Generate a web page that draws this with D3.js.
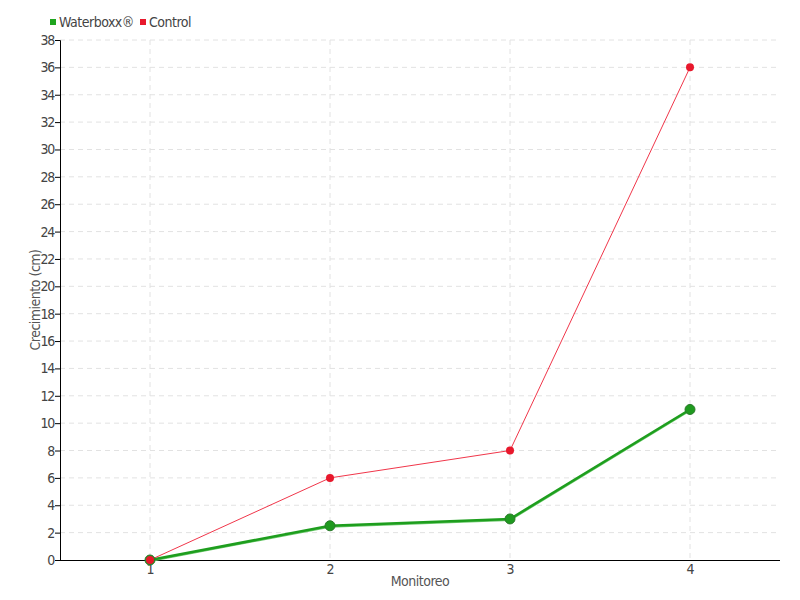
<!DOCTYPE html>
<html>
<head>
<meta charset="utf-8">
<script src="https://cdn.jsdelivr.net/npm/d3@7"></script>
<style>
  body { margin: 0; background: #fff; }
  text { font-family: "DejaVu Sans Condensed", "Liberation Sans Narrow", "Roboto", sans-serif; }
</style>
</head>
<body>
<div id="chart"></div>
<script>
const monitoreo = [1, 2, 3, 4];
const waterboxx = [0, 2.5, 3, 11];
const control = [0, 6, 8, 36];
const yTicks = d3.range(0, 39, 2);

const width = 800, height = 600;
const m = { top: 40, right: 20, bottom: 40, left: 60 };
const font = "'DejaVu Sans Condensed', 'Liberation Sans Narrow', sans-serif";

const svg = d3.select("#chart").append("svg")
  .attr("width", width)
  .attr("height", height);

const x = d3.scaleLinear().domain([0.5, 4.5]).range([m.left, width - m.right]);
const y = d3.scaleLinear().domain([0, 38]).range([height - m.bottom, m.top]);

// grid
svg.append("g")
  .selectAll("line")
  .data(yTicks.filter(d => d > 0))
  .join("line")
  .attr("x1", m.left).attr("x2", width - m.right)
  .attr("y1", d => y(d)).attr("y2", d => y(d))
  .attr("stroke", "#e2e2e2")
  .attr("stroke-dasharray", "5,4");

svg.append("g")
  .selectAll("line")
  .data(monitoreo)
  .join("line")
  .attr("x1", d => x(d)).attr("x2", d => x(d))
  .attr("y1", m.top).attr("y2", height - m.bottom)
  .attr("stroke", "#e2e2e2")
  .attr("stroke-dasharray", "5,4");

// axes
const yAxis = svg.append("g")
  .attr("transform", `translate(${m.left},0)`)
  .call(d3.axisLeft(y).tickValues(yTicks).tickSize(5).tickPadding(1));
yAxis.select(".domain").attr("stroke", "#000");
yAxis.selectAll("text").attr("font-size", 14).attr("fill", "#444")
  .attr("letter-spacing", "-1.2px")
  .style("font-family", font);

const xAxis = svg.append("g")
  .attr("transform", `translate(0,${height - m.bottom})`)
  .call(d3.axisBottom(x).tickValues(monitoreo).tickFormat(d3.format("d")).tickSize(0).tickPadding(4));
xAxis.select(".domain").attr("stroke", "#000").attr("d", `M${m.left},0.5H${width - m.right}`);
xAxis.selectAll("text").attr("font-size", 14).attr("fill", "#444")
  .style("font-family", font);

svg.append("text")
  .attr("x", (m.left + width - m.right) / 2)
  .attr("y", 586)
  .attr("text-anchor", "middle")
  .attr("font-size", 14)
  .attr("letter-spacing", "-0.5px")
  .attr("fill", "#555")
  .text("Monitoreo");

svg.append("text")
  .attr("transform", `translate(40,${(m.top + height - m.bottom) / 2}) rotate(-90)`)
  .attr("text-anchor", "middle")
  .attr("font-size", 14)
  .attr("letter-spacing", "-0.5px")
  .attr("fill", "#555")
  .text("Crecimiento (cm)");

// lines
const line = d3.line().x((d, i) => x(monitoreo[i])).y(d => y(d));

svg.append("path")
  .datum(waterboxx)
  .attr("d", line)
  .attr("transform", "translate(0,1)")
  .attr("fill", "none")
  .attr("stroke", "#6cc86c")
  .attr("stroke-width", 2);
svg.append("path")
  .datum(waterboxx)
  .attr("d", line)
  .attr("fill", "none")
  .attr("stroke", "#1e9e1e")
  .attr("stroke-width", 2.5);

svg.append("path")
  .datum(control)
  .attr("d", line)
  .attr("fill", "none")
  .attr("stroke", "#f0364a")
  .attr("stroke-width", 1);

svg.append("g")
  .selectAll("circle")
  .data(waterboxx)
  .join("circle")
  .attr("cx", (d, i) => x(monitoreo[i]))
  .attr("cy", d => y(d))
  .attr("r", 5)
  .attr("fill", "#1f9a1f")
  .attr("stroke", "#2a7a2a")
  .attr("stroke-width", 1);

svg.append("g")
  .selectAll("circle")
  .data(control)
  .join("circle")
  .attr("cx", (d, i) => x(monitoreo[i]))
  .attr("cy", d => y(d))
  .attr("r", 4)
  .attr("fill", "#e8182c");

// legend
const legendItems = [
  { name: "Waterboxx®", color: "#1fa51f", x: 50 },
  { name: "Control", color: "#e8182c", x: 140 }
];
const lg = svg.append("g").selectAll("g").data(legendItems).join("g")
  .attr("transform", d => `translate(${d.x},0)`);
lg.append("rect").attr("x", 0).attr("y", 19).attr("width", 6).attr("height", 6).attr("fill", d => d.color);
lg.append("text").attr("x", 9).attr("y", 27).attr("font-size", 14)
  .attr("letter-spacing", "-0.5px").attr("fill", "#444").text(d => d.name);
</script>
</body>
</html>
